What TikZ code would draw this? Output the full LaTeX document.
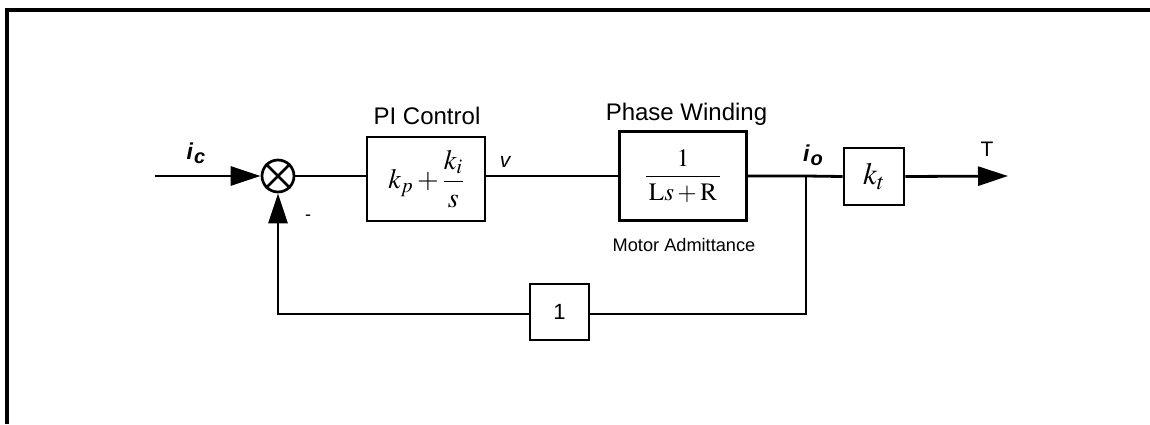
\documentclass[tikz,border=0pt]{standalone}
\usepackage{mathptmx}
\usepackage{fontspec}
\setmainfont{Liberation Sans}
\usetikzlibrary{arrows.meta}
\tikzset{
  wire/.style={line width=2.8pt},
  blk/.style={draw, line width=2.8pt, rectangle, inner sep=0pt, fill=white},
  lbl/.style={inner sep=0pt, font=\fontsize{24}{26}\selectfont},
  smalllbl/.style={inner sep=0pt, font=\fontsize{18.2}{20}\selectfont},
  arr/.style={-{Triangle[length=30pt,width=19pt]}},
}
\begin{document}
\begin{tikzpicture}[x=1pt,y=-1pt]
\useasboundingbox (0,0) rectangle (1150,424);
% frame
\draw[line width=3.2pt] (7,424) -- (7,10) -- (1152,10);
% nodes
\node[draw, circle, line width=2.7pt, minimum size=32pt, inner sep=0pt] (sum) at (278,176) {};
\draw[line width=2.7pt] (sum.north west) -- (sum.south east) (sum.north east) -- (sum.south west);
\node[blk, minimum width=118pt, minimum height=84pt] (pi) at (426,179) {\fontsize{28}{30}\selectfont$\displaystyle k_p+\frac{k_i}{s}$};
\node[blk, minimum width=127pt, minimum height=89pt] (pw) at (683,176) {\fontsize{25}{27}\selectfont$\displaystyle\frac{\quad\;1\;\quad}{\mathrm{L}s+\mathrm{R}}$};
\node[blk, minimum width=60pt, minimum height=57pt] (kt) at (874,176.5) {\fontsize{31}{33}\selectfont$k_t$};
\node[blk, minimum width=59pt, minimum height=56pt] (fb) at (559.5,312) {\fontsize{22}{24}\selectfont 1};
\coordinate (in) at (155,176);
\coordinate (br) at (806,176);
\coordinate (out) at (1008,176);
\coordinate (fbr) at (806,314);
\coordinate (fbl) at (278,314);
% labels
\node[lbl] (pil) at (427,116) {PI Control};
\node[lbl] (pwl) at (686.5,114) {Phase Winding};
\node[smalllbl] (mal) at (684,245) {Motor Admittance};
\node[inner sep=0pt] (icl) at (196,153) {\fontsize{23}{24}\selectfont\bfseries\itshape i\kern1pt\raisebox{-4pt}{\fontsize{20}{20}\selectfont c}};
\node[inner sep=0pt] (iol) at (813,155) {\fontsize{23}{24}\selectfont\bfseries\itshape i\kern1pt\raisebox{-4pt}{\fontsize{20}{20}\selectfont o}};
\node[inner sep=0pt] (vl) at (505,162) {\fontsize{21}{22}\selectfont\itshape v};
\node[inner sep=0pt] (tl) at (987,149) {\fontsize{21}{22}\selectfont T};
\node[inner sep=0pt] (ml) at (308,218) {\fontsize{18}{20}\selectfont -};
% connectors
\draw[wire, arr] (in) -- (sum.west);
\draw[wire] (sum.east) -- (sum.east -| pi.west);
\draw[wire] (pi.east |- br) -- (pw.west);
\draw[wire] (pw.east) -- (br) -- (kt.west);
\draw[wire, arr] (kt.east) -- (out);
\draw[wire] (br) -- (fbr) -- (fb.east |- fbr);
\draw[wire, arr] (fb.west |- fbl) -- (fbl) -- (sum.south);
\end{tikzpicture}
\end{document}
